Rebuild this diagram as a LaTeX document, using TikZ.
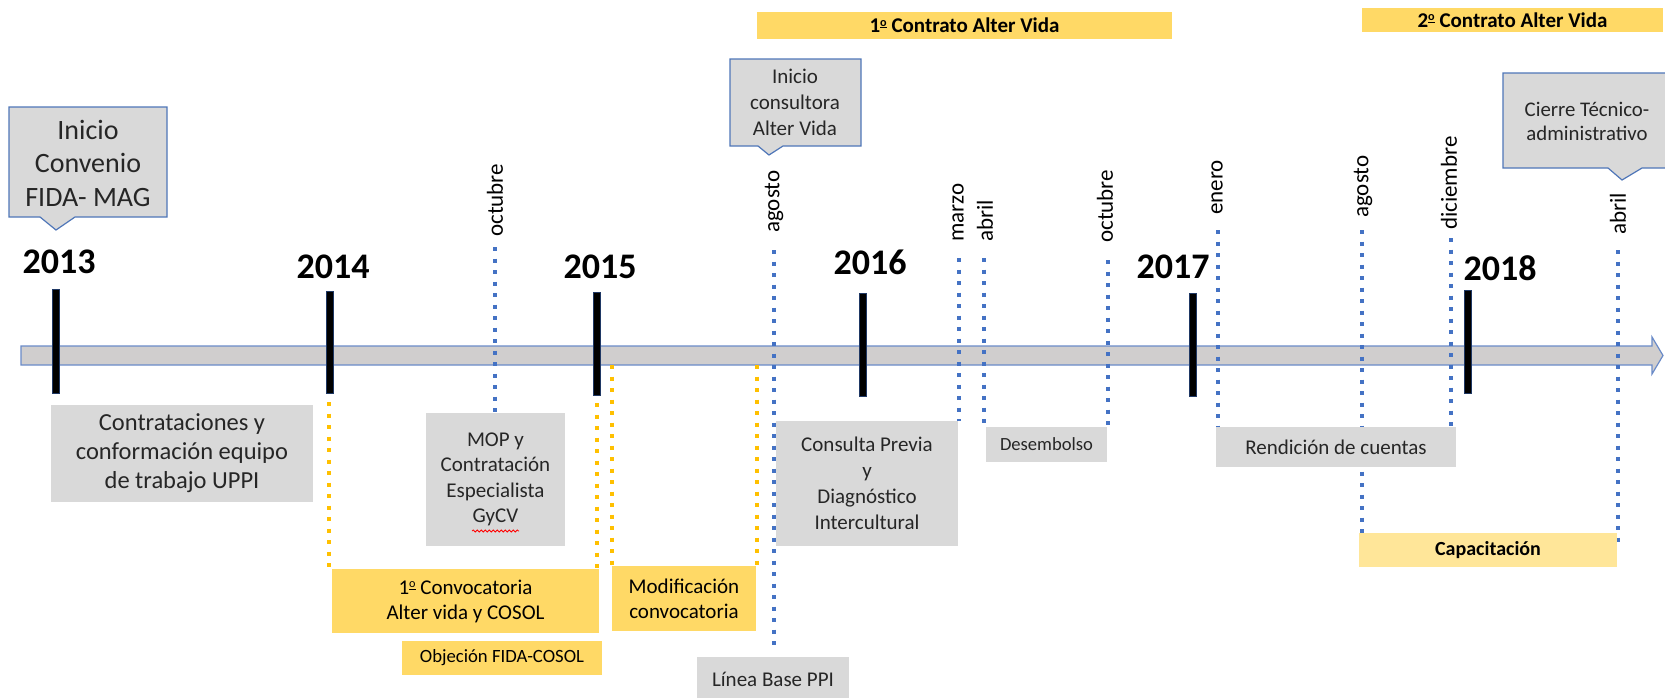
\documentclass[tikz,border=0pt]{standalone}
\usepackage{fontspec}
\setmainfont{Carlito}
\usetikzlibrary{calc,decorations.pathmorphing}
\definecolor{boxgray}{HTML}{D9D9D9}
\definecolor{yel}{HTML}{FFD966}
\definecolor{lyel}{HTML}{FFE699}
\definecolor{dotblue}{HTML}{4472C4}
\definecolor{dotorange}{HTML}{FFC000}
\definecolor{axisfill}{HTML}{D0CECE}
\definecolor{axisblue}{HTML}{6A8BC8}
\definecolor{callblue}{HTML}{4F76B8}
\definecolor{tickblue}{HTML}{1F3864}
\definecolor{txtgray}{HTML}{262626}
\newcommand{\myord}{\raisebox{0.62ex}{\scalebox{0.58}{\underline{o}}}}
\pgfdeclarelayer{bg}
\pgfsetlayers{bg,main}
\begin{document}
\begin{tikzpicture}[x=1pt,y=-1pt,
  yearlbl/.style={font=\fontsize{36}{40}\selectfont\bfseries, inner sep=0pt},
  monthlbl/.style={font=\fontsize{23}{26}\selectfont, rotate=90, anchor=west, inner sep=0pt},
  graybox/.style={fill=boxgray, inner sep=0pt, align=center, text=txtgray},
  yelbox/.style={fill=yel, inner sep=0pt, align=center, text=black},
  bluedot/.style={draw=dotblue, line width=4pt, dash pattern=on 4pt off 7.5pt},
  orangedot/.style={draw=dotorange, line width=4pt, dash pattern=on 4pt off 7.5pt},
  yeartick/.style={fill=black, draw=tickblue, line width=0.8pt},
  callshape/.style={fill=boxgray, draw=callblue, line width=1.2pt},
  calltext/.style={inner sep=0pt, align=center, text=txtgray},
]
\useasboundingbox (0,0) rectangle (1665,697);
\clip (0,0) rectangle (1665,697);

% callouts
\draw[callshape] (9,107) -- (167,107) -- (167,217) -- (75,217) -- (56,230) -- (40,217) -- (9,217) -- cycle;
\node[calltext, font=\fontsize{28}{33.5}\selectfont] (c1) at (88,163) {Inicio\\Convenio\\FIDA- MAG};
\draw[callshape] (730,59) -- (861,59) -- (861,146) -- (783,146) -- (769,155) -- (758,146) -- (730,146) -- cycle;
\node[calltext, font=\fontsize{21}{26}\selectfont] (c2) at (795,102) {Inicio\\consultora\\Alter Vida};
\draw[callshape] (1503,73) -- (1675,73) -- (1675,168) -- (1642,168) -- (1622,180) -- (1608,168) -- (1503,168) -- cycle;
\node[calltext, font=\fontsize{20.8}{24}\selectfont] (c3) at (1587,121) {Cierre Técnico-\\administrativo};

% contract bars
\node[yelbox, minimum width=415pt, minimum height=27pt, font=\fontsize{21}{25}\selectfont\bfseries] (k1) at (964.5,25.5) {1\myord{} Contrato Alter Vida};
\node[yelbox, minimum width=301pt, minimum height=24pt, font=\fontsize{21}{25}\selectfont\bfseries] (k2) at (1512.5,20) {2\myord{} Contrato Alter Vida};

% years
\node[yearlbl] (y2013) at (59,262) {2013};
\node[yearlbl] (y2014) at (333,267) {2014};
\node[yearlbl] (y2015) at (600,267) {2015};
\node[yearlbl] (y2016) at (870,262) {2016};
\node[yearlbl] (y2017) at (1173,267) {2017};
\node[yearlbl] (y2018) at (1500,268) {2018};

% months
\node[monthlbl] (m1) at (495,237) {octubre};
\node[monthlbl] (m2) at (774,233) {agosto};
\node[monthlbl] (m3) at (958,242) {marzo};
\node[monthlbl] (m4) at (985,242) {abril};
\node[monthlbl] (m5) at (1105,243) {octubre};
\node[monthlbl] (m6) at (1217,215) {enero};
\node[monthlbl] (m7) at (1363,218) {agosto};
\node[monthlbl] (m8) at (1449,230) {diciembre};
\node[monthlbl] (m9) at (1618,235) {abril};

% boxes
\node[graybox, minimum width=262pt, minimum height=97pt, font=\fontsize{24.5}{29}\selectfont] (contr) at (182,453.5) {Contrataciones y\\conformación equipo\\de trabajo UPPI};
\node[graybox, minimum width=139pt, minimum height=133pt, font=\fontsize{21}{25.5}\selectfont] (mop) at (495.5,479.5) {MOP y\\Contratación\\Especialista\\GyCV};
\draw[red, line width=0.8pt, decorate, decoration={snake, segment length=4pt, amplitude=1pt}] (472,531) -- (519,531);
\node[yelbox, minimum width=267pt, minimum height=64pt, font=\fontsize{21}{25}\selectfont] (conv) at (465.5,601) {1\myord{} Convocatoria\\Alter vida y COSOL};
\node[yelbox, minimum width=144pt, minimum height=65pt, font=\fontsize{21}{25}\selectfont] (modif) at (684,598.5) {Modificación\\convocatoria};
\node[yelbox, minimum width=200pt, minimum height=34pt, font=\fontsize{18.7}{22}\selectfont] (objec) at (502,658) {Objeción FIDA-COSOL};
\node[graybox, minimum width=152pt, minimum height=44pt, font=\fontsize{21}{25}\selectfont] (linea) at (773,679) {Línea Base PPI};
\node[graybox, minimum width=182pt, minimum height=125pt, font=\fontsize{21}{26}\selectfont] (consulta) at (867,483.5) {Consulta Previa\\y\\Diagnóstico\\Intercultural};
\node[graybox, minimum width=121pt, minimum height=35pt, font=\fontsize{18.6}{22}\selectfont] (desem) at (1046.5,444.5) {Desembolso};
\node[graybox, minimum width=240pt, minimum height=40pt, font=\fontsize{21}{25}\selectfont] (rend) at (1336,447) {Rendición de cuentas};
\node[yelbox, fill=lyel, minimum width=258pt, minimum height=34pt, font=\fontsize{20}{24}\selectfont\bfseries] (capac) at (1488,550) {Capacitación};

\begin{pgfonlayer}{bg}
% axis
\draw[fill=axisfill, draw=axisblue, line width=1.2pt] (21,346) -- (1652,346) -- (1652,337) -- (1663,355.5) -- (1652,374) -- (1652,365) -- (21,365) -- cycle;
% ticks
\foreach \x/\t/\b in {56/289/393, 330/291/393, 597/292/395, 863/293/396, 1193/293/396, 1468/290/393}
  \draw[yeartick] (\x-3.5,\t) rectangle (\x+3.5,\b);
% blue dotted lines
\coordinate (d1) at (495,247);
\coordinate (d2) at (774,250);
\coordinate (d2e) at (774,648);
\coordinate (d3) at (959,258);
\coordinate (d4) at (984,258);
\coordinate (d5) at (1108,260);
\coordinate (d6) at (1218,230);
\coordinate (d7) at (1362,230);
\coordinate (d8) at (1451,238);
\coordinate (d9) at (1618,250);
\coordinate (d9e) at (1618,545);
\draw[bluedot] (d1) -- (d1 |- mop.north);
\draw[bluedot] (d2) -- (d2e);
\draw[bluedot] (d3) -- (d3 |- consulta.north);
\draw[bluedot] (d4) -- (d4 |- desem.north);
\draw[bluedot] (d5) -- (d5 |- desem.north);
\draw[bluedot] (d6) -- (d6 |- rend.north);
\draw[bluedot] (d7) -- (d7 |- capac.north);
\draw[bluedot] (d8) -- (d8 |- rend.north);
\draw[bluedot] (d9) -- (d9e);
% orange dotted lines
\coordinate (o1) at (329,402);
\coordinate (o2) at (597,403);
\coordinate (o3) at (612,365);
\coordinate (o4) at (757,365);
\draw[orangedot] (o1) -- (o1 |- conv.north);
\draw[orangedot] (o2) -- (o2 |- conv.north);
\draw[orangedot] (o3) -- (o3 |- modif.north);
\draw[orangedot] (o4) -- (o4 |- modif.north);
\end{pgfonlayer}
\end{tikzpicture}
\end{document}
